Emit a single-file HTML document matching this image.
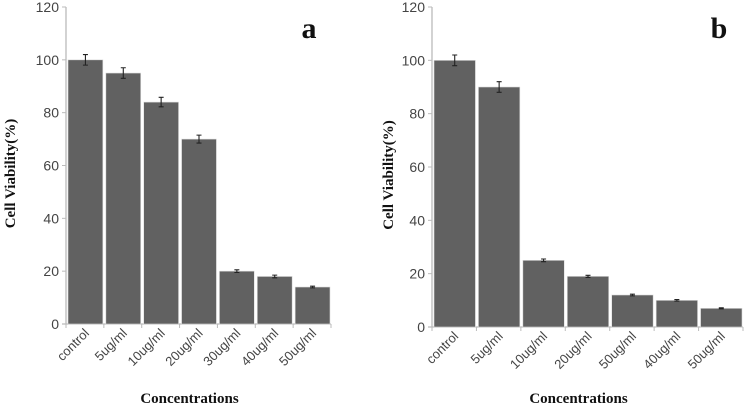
<!DOCTYPE html>
<html><head><meta charset="utf-8"><style>
body{margin:0;background:#fff}
svg{display:block}
text{font-family:"Liberation Sans",sans-serif}
.t{font-family:"Liberation Serif",serif;font-weight:bold}
</style></head><body>
<svg id="c" width="749" height="409" xmlns="http://www.w3.org/2000/svg"></svg>
<script>
const categoriesA=["control","5ug/ml","10ug/ml","20ug/ml","30ug/ml","40ug/ml","50ug/ml"];
const valuesA=[100,95,84,70,20,18,14];
const errorsA=[2,2,1.8,1.5,0.5,0.5,0.3];
const categoriesB=["control","5ug/ml","10ug/ml","20ug/ml","50ug/ml","40ug/ml","50ug/ml"];
const valuesB=[100,90,25,19,12,10,7];
const errorsB=[2,2,0.5,0.4,0.3,0.3,0.2];
const yTicks=[0,20,40,60,80,100,120];
const NS="http://www.w3.org/2000/svg";
const svg=document.getElementById('c');
function mk(tag,attrs,parent,txt){const e=document.createElementNS(NS,tag);for(const k in attrs)e.setAttribute(k,attrs[k]);if(txt!==undefined)e.textContent=txt;(parent||svg).appendChild(e);return e;}
function chart(id,cats,vals,errs,x0,x1,yTop,yBot,letter,letterX,titleX){
  const g=mk('g',{});
  
  
  const ys=v=>yBot-(v/120)*(yBot-yTop);
  const bw=(x1-x0)/cats.length;
  const xs=i=>x0+i*bw;
  const ax=mk('line',{x1:x0,y1:yTop,x2:x0,y2:yBot,stroke:'#bbb','stroke-width':1.3},g);
  
  const bx=mk('line',{x1:x0-4,y1:yBot,x2:x1,y2:yBot,stroke:'#bbb','stroke-width':1.3},g);
  
  yTicks.forEach(t=>{
    mk('line',{x1:x0-4,y1:ys(t),x2:x0,y2:ys(t),stroke:'#bbb'},g);
    const l=mk('text',{x:x0-7,y:ys(t)+5,'text-anchor':'end','font-size':14,fill:'#444'},g,t);
    
  });
  for(let i=0;i<=cats.length;i++)mk('line',{x1:xs(i),y1:yBot,x2:xs(i),y2:yBot+4,stroke:'#bbb'},g);
  cats.forEach((c,i)=>{
    const b=mk('rect',{x:xs(i)+2,y:ys(vals[i]),width:bw-3,height:yBot-ys(vals[i]),fill:'#616161',stroke:'#ddd','stroke-width':0.6},g);
    
    const cx=xs(i)+bw/2+0.5,e1=ys(vals[i]+errs[i]),e2=ys(vals[i]-errs[i]);
    const eb=mk('path',{d:`M${cx},${e1}V${e2}M${cx-2.5},${e1}H${cx+2.5}M${cx-2.5},${e2}H${cx+2.5}`,stroke:'#222','stroke-width':1.1,fill:'none'},g);
    
    const tx=xs(i)+bw/2+5,ty=yBot+10;
    const l=mk('text',{x:tx,y:ty,'text-anchor':'end','font-size':13,fill:'#444',transform:`rotate(-45 ${tx} ${ty})`},g,c);
    
  });
  const yt=mk('text',{class:'t',x:titleX,y:(yTop+yBot)/2+8,'text-anchor':'middle','font-size':15,fill:'#111',transform:`rotate(-90 ${titleX} ${(yTop+yBot)/2+8})`},g,'Cell Viability(%)');
  
  const xt=mk('text',{class:'t',x:(x0+x1)/2-9,y:403,'text-anchor':'middle','font-size':15,fill:'#111'},g,'Concentrations');
  
  const lt=mk('text',{class:'t',x:letterX,y:38,'text-anchor':'middle','font-size':30,fill:'#111'},g,letter);
  
}
chart('a',categoriesA,valuesA,errorsA,66,331,7,324,'a',309,15);
chart('b',categoriesB,valuesB,errorsB,432,743,7,327,'b',719,393);
</script>
</body></html>
